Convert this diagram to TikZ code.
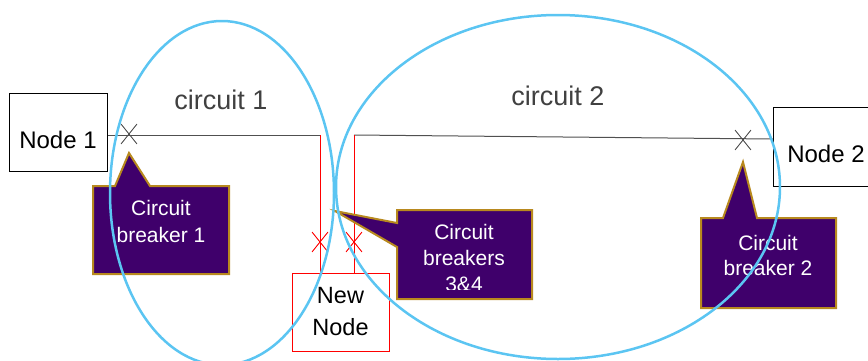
\documentclass[tikz,border=0pt]{standalone}
\usepackage{fontspec}
\setmainfont{Liberation Sans}
\usetikzlibrary{shapes.misc}
\definecolor{sky}{HTML}{5BC5F2}
\definecolor{cpurple}{HTML}{3F006B}
\definecolor{cgold}{HTML}{B8891E}
\definecolor{lbl}{HTML}{404040}
\definecolor{wire}{HTML}{505050}
\begin{document}
\begin{tikzpicture}[x=1pt,y=-1pt,
  box/.style={draw=black, line width=1pt, fill=white, inner sep=0pt},
  nodetext/.style={font=\fontsize{24}{29}\selectfont, text=black, inner sep=0pt},
  circlabel/.style={font=\fontsize{27}{32}\selectfont, text=lbl, inner sep=0pt},
  calloutshape/.style={fill=cpurple, draw=cgold, line width=2pt, line join=miter},
  calltext/.style={text=white, align=center, inner sep=0pt},
  ring/.style={draw=sky, line width=2.5pt},
  brk/.style={cross out, draw=wire, line width=0.9pt, minimum width=15pt, minimum height=19pt, inner sep=0pt},
  rbrk/.style={brk, draw=red},
  wireline/.style={draw=wire, line width=1pt},
  redline/.style={draw=red, line width=1pt}]
\useasboundingbox (0,0) rectangle (868,360);
\clip (0,0) rectangle (868,360);

% coordinates
\coordinate (j1) at (320,135);
\coordinate (j2) at (354,135);
\coordinate (e2) at (773,139);

% nodes
\node[box, minimum width=98pt, minimum height=78pt] (n1) at (58,132) {};
\node[nodetext] (n1t) at (58,140) {Node 1};
\node[box, minimum width=107pt, minimum height=79pt] (n2) at (826.5,146.5) {};
\node[nodetext] (n2t) at (826,154) {Node 2};
\node[box, draw=red, minimum width=97pt, minimum height=78pt, align=center,
      font=\fontsize{23.5}{32}\selectfont] (nn) at (340.5,312) {New\\Node};

% wires
\draw[wireline] (n1.east |- j1) -- (j1);
\draw[wireline] (j2) -- (e2);
\draw[redline] (j1) -- (j1 |- nn.north);
\draw[redline] (j2) -- (j2 |- nn.north);

% breakers
\node[brk] (b1) at (129,134) {};
\node[brk] (b2) at (743,140) {};
\node[rbrk] (b3) at (320,242) {};
\node[rbrk] (b4) at (354,242) {};

% callouts
\draw[calloutshape] (93,186) -- (115,186) -- (129,153) -- (150,186) -- (229,186)
  -- (229,274) -- (93,274) -- cycle;
\node[calltext, font=\fontsize{21}{27}\selectfont] (c1) at (161,221.5) {Circuit\\breaker 1};

\draw[calloutshape] (397,210) -- (532,210) -- (532,299) -- (397,299) -- (397,247)
  -- (335,211) -- (397,223) -- cycle;
\begin{scope}
  \clip (397,210) rectangle (532,289);
  \node[calltext, font=\fontsize{21}{26}\selectfont] (c2) at (464,258) {Circuit\\breakers\\3\&4};
\end{scope}

\draw[calloutshape] (701,218) -- (723,218) -- (743,162) -- (757,218) -- (836,218)
  -- (836,308) -- (701,308) -- cycle;
\node[calltext, font=\fontsize{21}{25}\selectfont] (c3) at (768,255.5) {Circuit\\breaker 2};

% circuit labels
\node[circlabel] (l1) at (221,100) {circuit 1};
\node[circlabel] (l2) at (558,96) {circuit 2};

% circuits
\draw[ring] (222,193) ellipse [x radius=112, y radius=172];
\draw[ring] (558,187) ellipse [x radius=222, y radius=172];
\end{tikzpicture}
\end{document}
